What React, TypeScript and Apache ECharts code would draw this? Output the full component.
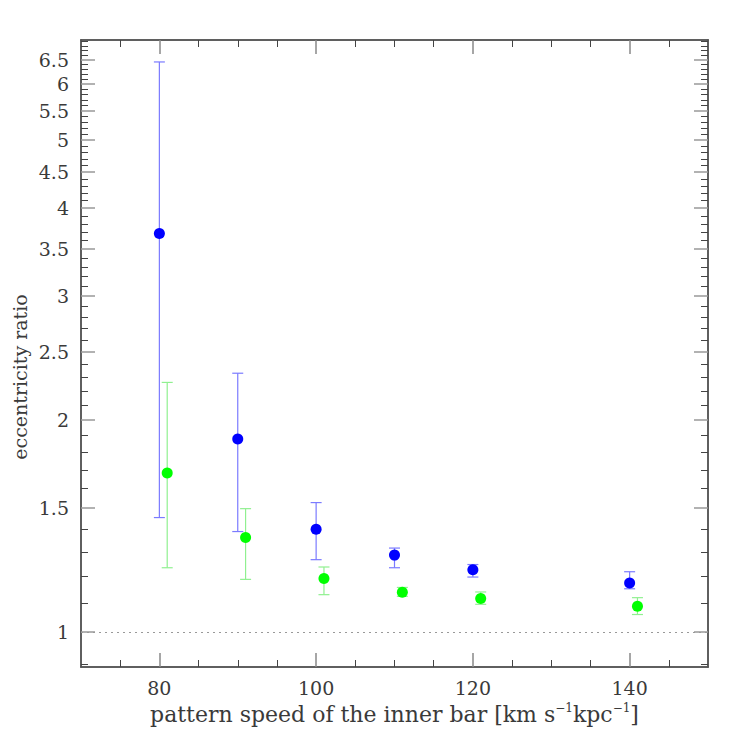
import { useEffect, useRef } from 'react';
import * as echarts from 'echarts';

// pattern speed of the inner bar, km/s/kpc
const blueSpeed = [80, 90, 100, 110, 120, 140];
const blueRatio = [3.68, 1.88, 1.4, 1.286, 1.226, 1.174];
const blueLow = [1.454, 1.389, 1.267, 1.234, 1.197, 1.152];
const blueHigh = [6.45, 2.331, 1.527, 1.316, 1.247, 1.218];

const greenSpeed = [81, 91, 101, 111, 121, 141];
const greenRatio = [1.682, 1.362, 1.191, 1.139, 1.116, 1.088];
const greenLow = [1.234, 1.188, 1.13, 1.124, 1.095, 1.059];
const greenHigh = [2.262, 1.497, 1.237, 1.157, 1.14, 1.119];

const xMajorTicks = [80, 100, 120, 140];
const xMinorTicks = [75, 85, 90, 95, 105, 110, 115, 125, 130, 135, 145];

const yMajorTicks = [1, 1.5, 2, 2.5, 3, 3.5, 4, 4.5, 5, 5.5, 6, 6.5];
const yTickLabels = ['1', '1.5', '2', '2.5', '3', '3.5', '4', '4.5', '5', '5.5', '6', '6.5'];

const yMin = 0.892;
const yMax = 6.93;

const BLUE = '#0000ff';
const BLUE_BAR = '#7b7bff';
const GREEN = '#00ff00';
const GREEN_BAR = '#90f090';
const FONT = "'DejaVu Serif', 'Liberation Serif', serif";
const TEXT = '#3a3a3a';

// minor ticks every 0.1 between the labelled ones
const yMinorTicks: number[] = [];
for (let i = 9; i <= 69; i++) {
  if (i % 5 !== 0) yMinorTicks.push(i / 10);
}

const lg = (v: number) => Math.log10(v);

function errorSeries(xs: number[], lo: number[], hi: number[], color: string) {
  return {
    type: 'custom' as const,
    xAxisIndex: 0,
    yAxisIndex: 0,
    z: 2,
    silent: true,
    encode: { x: 0, y: [1, 2] },
    data: xs.map((x, i) => [x, lg(lo[i]), lg(hi[i])]),
    renderItem: (params: any, api: any) => {
      const x = api.value(0);
      const a = api.coord([x, api.value(1)]);
      const b = api.coord([x, api.value(2)]);
      const w = 5.5;
      const style = { stroke: color, lineWidth: 1.2 };
      return {
        type: 'group',
        children: [
          { type: 'line', shape: { x1: a[0], y1: a[1], x2: b[0], y2: b[1] }, style },
          { type: 'line', shape: { x1: a[0] - w, y1: a[1], x2: a[0] + w, y2: a[1] }, style },
          { type: 'line', shape: { x1: b[0] - w, y1: b[1], x2: b[0] + w, y2: b[1] }, style },
        ],
      };
    },
  };
}

function xAxisDef(position: 'top' | 'bottom', ticks: number[], len: number, major: boolean, labels: boolean) {
  return {
    type: 'value' as const,
    position,
    min: 70,
    max: 150,
    axisLine: { show: true, onZero: false, lineStyle: { color: '#555', width: 1.5 } },
    splitLine: { show: false },
    axisTick: {
      show: true,
      inside: true,
      length: len,
      customValues: ticks,
      lineStyle: { color: major ? '#888' : '#444', width: major ? 1.5 : 1 },
    },
    axisLabel: labels
      ? { show: true, customValues: ticks, margin: 11, color: TEXT, fontSize: 19, fontFamily: FONT }
      : { show: false },
  };
}

function yAxisDef(position: 'left' | 'right', ticks: number[], len: number, major: boolean, labels: boolean) {
  return {
    type: 'value' as const,
    position,
    min: lg(yMin),
    max: lg(yMax),
    axisLine: { show: true, onZero: false, lineStyle: { color: '#555', width: 1.5 } },
    splitLine: { show: false },
    axisTick: {
      show: true,
      inside: true,
      length: len,
      customValues: ticks.map(lg),
      lineStyle: { color: major ? '#999' : '#444', width: major ? 1.5 : 1 },
    },
    axisLabel: labels
      ? {
          show: true,
          customValues: ticks.map(lg),
          margin: 12,
          color: TEXT,
          fontSize: 19,
          fontFamily: FONT,
          formatter: (v: number) => {
            const val = Math.pow(10, v);
            let best = 0;
            yMajorTicks.forEach((t, i) => {
              if (Math.abs(t - val) < Math.abs(yMajorTicks[best] - val)) best = i;
            });
            return yTickLabels[best];
          },
        }
      : { show: false },
  };
}

export default function App() {
  const chartRef = useRef<HTMLDivElement>(null);

  useEffect(() => {
    if (!chartRef.current) return;
    const chart = echarts.init(chartRef.current, null, { renderer: 'svg' });

    const bottomAxis: any = xAxisDef('bottom', xMajorTicks, 14, true, true);
    bottomAxis.name = '{a|pattern speed of the inner bar [km s}{s|−1}{a|kpc}{s|−1}{a|]}';
    bottomAxis.nameLocation = 'middle';
    bottomAxis.nameGap = 34;
    bottomAxis.nameTextStyle = {
      rich: {
        a: { fontSize: 22, fontFamily: FONT, color: TEXT, lineHeight: 26, verticalAlign: 'middle' },
        s: { fontSize: 12, fontFamily: FONT, color: TEXT, lineHeight: 26, verticalAlign: 'top' },
      },
    };

    chart.setOption({
      animation: false,
      textStyle: { fontFamily: FONT },
      grid: { left: 81, right: 39, top: 40, bottom: 80, containLabel: false },
      xAxis: [
        bottomAxis,
        xAxisDef('bottom', xMinorTicks, 7, false, false),
        xAxisDef('top', xMajorTicks, 14, true, false),
        xAxisDef('top', xMinorTicks, 7, false, false),
      ],
      yAxis: [
        yAxisDef('left', yMajorTicks, 14, true, true),
        yAxisDef('left', yMinorTicks, 7, false, false),
        yAxisDef('right', yMajorTicks, 14, true, false),
        yAxisDef('right', yMinorTicks, 7, false, false),
      ],
      graphic: [
        {
          type: 'text',
          x: 20,
          y: 377,
          rotation: Math.PI / 2,
          style: {
            text: 'eccentricity ratio',
            fontSize: 19,
            fontFamily: FONT,
            fill: TEXT,
            align: 'center',
            verticalAlign: 'middle',
          },
        },
      ],
      series: [
        errorSeries(blueSpeed, blueLow, blueHigh, BLUE_BAR),
        errorSeries(greenSpeed, greenLow, greenHigh, GREEN_BAR),
        {
          type: 'scatter',
          xAxisIndex: 0,
          yAxisIndex: 0,
          z: 3,
          symbol: 'circle',
          symbolSize: 11,
          itemStyle: { color: BLUE, opacity: 1 },
          data: blueSpeed.map((x, i) => [x, lg(blueRatio[i])]),
          markLine: {
            silent: true,
            symbol: ['none', 'none'],
            label: { show: false },
            lineStyle: { type: [2, 4], color: '#999', width: 1.2 },
            data: [{ yAxis: 0 }],
          },
        },
        {
          type: 'scatter',
          xAxisIndex: 0,
          yAxisIndex: 0,
          z: 3,
          symbol: 'circle',
          symbolSize: 11,
          itemStyle: { color: GREEN, opacity: 1 },
          data: greenSpeed.map((x, i) => [x, lg(greenRatio[i])]),
        },
      ],
    });

    return () => {
      chart.dispose();
    };
  }, []);

  return (
    <div
      ref={chartRef}
      style={{ position: 'fixed', left: 0, top: 0, width: 747, height: 747, background: '#fff' }}
    />
  );
}
